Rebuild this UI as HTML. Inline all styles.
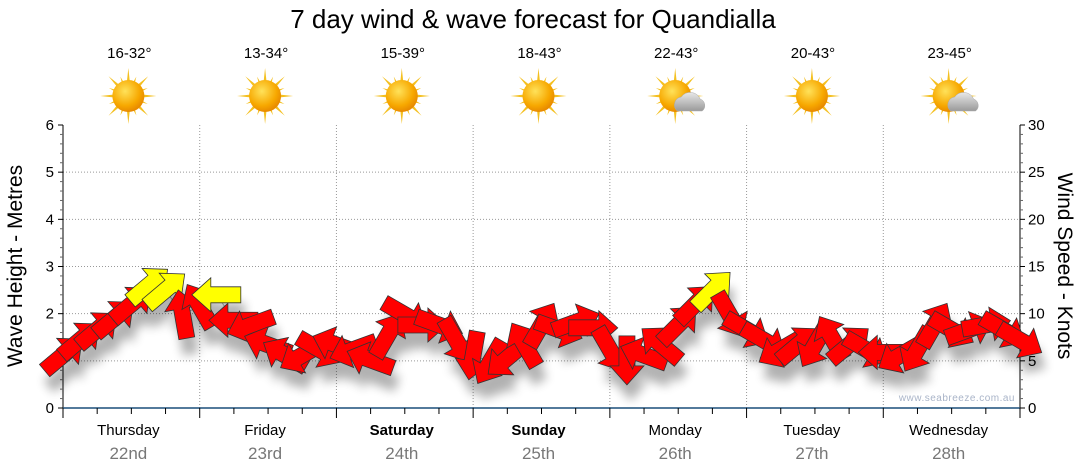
<!DOCTYPE html>
<html><head><meta charset="utf-8"><style>
html,body{margin:0;padding:0;background:#fff;width:1080px;height:475px;overflow:hidden;font-family:"Liberation Sans","DejaVu Sans",sans-serif}
</style></head><body>
<svg id="chart" width="1080" height="475" xmlns="http://www.w3.org/2000/svg" font-family="Liberation Sans, DejaVu Sans, sans-serif">
<defs>
<radialGradient id="sunG" cx="40%" cy="35%" r="65%"><stop offset="0" stop-color="#ffe25a"/><stop offset="0.7" stop-color="#f7a800"/><stop offset="1" stop-color="#e88a00"/></radialGradient>
<linearGradient id="cloudG" x1="0" y1="0" x2="0" y2="1"><stop offset="0" stop-color="#e8e8e8"/><stop offset="1" stop-color="#9a9a9a"/></linearGradient>
<filter id="shadow" x="-50%" y="-50%" width="200%" height="200%"><feGaussianBlur stdDeviation="5"/></filter>
</defs>
<text x="533" y="28" text-anchor="middle" font-size="26" fill="#000">7 day wind &amp; wave forecast for Quandialla</text>
<g id="grid"></g>
<g id="weather"></g>
<g id="axes"></g>
<g id="shadows" filter="url(#shadow)" opacity="0.3"></g>
<g id="arrows"></g>
<text x="1015" y="401" text-anchor="end" font-size="10" fill="#a9b4c8" letter-spacing="0.5">www.seabreeze.com.au</text>
<text transform="translate(22,266) rotate(-90)" text-anchor="middle" font-size="21" fill="#000">Wave Height - Metres</text>
<text transform="translate(1058,266) rotate(90)" text-anchor="middle" font-size="21" fill="#000">Wind Speed - Knots</text>
</svg>
<script>
const days = ["Thursday","Friday","Saturday","Sunday","Monday","Tuesday","Wednesday"];
const dates = ["22nd","23rd","24th","25th","26th","27th","28th"];
const boldDays = [false,false,true,true,false,false,false];
const temps = ["16-32°","13-34°","15-39°","18-43°","22-43°","20-43°","23-45°"];
const cloudy = [false,false,false,false,true,false,true];
const waveTicks = [0,1,2,3,4,5,6];
const windTicks = [0,5,10,15,20,25,30];
const windSpeed = [5.6,7.2,8.3,9.5,11.0,13,12.5,9.9,10.8,12,9.3,8.8,6.7,5.6,5.6,6.2,6.7,6.2,5.1,7.7,9.9,8.8,8.8,7.2,5.6,4.9,5.3,6.7,8.8,8.3,9.1,8.5,6.2,5.1,5.6,6.7,8.8,11.0,12.5,9.9,8.3,7.2,6.2,6.7,6.7,7.4,6.7,6.2,5.9,5.6,6.2,8.8,8.3,8.3,8.8,8.3,7.2];
const windDir = [-40,-40,-40,-40,-40,-40,-40,-100,-120,180,180,160,200,-150,150,30,200,160,200,-60,30,0,20,60,100,120,140,-120,-60,20,-20,0,60,90,200,-140,-45,-45,-45,60,30,30,150,-40,120,-120,-40,30,180,150,120,-60,30,-20,-10,30,30];

const L=63,R=1020,T=125,B=408;
const xDay=d=>L+(R-L)*d/7;
const xStep=i=>L+(R-L)*i/56;
const yWave=v=>B-(B-T)*v/6;
const yWind=v=>B-(B-T)*v/30;
const NS="http://www.w3.org/2000/svg";
function mk(tag,attrs,parent,text){const e=document.createElementNS(NS,tag);for(const k in attrs)e.setAttribute(k,attrs[k]);if(text!==undefined)e.textContent=text;parent.appendChild(e);return e;}
const grid=document.getElementById('grid'),axes=document.getElementById('axes'),wx=document.getElementById('weather');
waveTicks.forEach(v=>{if(v>0&&v<6){const l=mk('line',{x1:L,x2:R,y1:yWave(v),y2:yWave(v),stroke:'#999','stroke-dasharray':'1,2'},grid);

}});
for(let d=1;d<7;d++){const l=mk('line',{x1:xDay(d),x2:xDay(d),y1:T,y2:B,stroke:'#999','stroke-dasharray':'1,2'},grid);

}
mk('line',{x1:L,x2:L,y1:T,y2:B,stroke:'#000'},axes);
mk('line',{x1:R,x2:R,y1:T,y2:B,stroke:'#000'},axes);
mk('line',{x1:L,x2:R,y1:B,y2:B,stroke:'#1a4f7a','stroke-width':1.5},axes);
for(let i=0;i<=30;i++){const y=B-(B-T)*i/30;const big=i%5==0;
mk('line',{x1:L-(big?5:3),x2:L,y1:y,y2:y,stroke:big?'#000':'#666'},axes);
mk('line',{x1:R,x2:R+(big?5:3),y1:y,y2:y,stroke:big?'#000':'#666'},axes);}
waveTicks.forEach(v=>{const t=mk('text',{x:L-9,y:yWave(v)+5,'text-anchor':'end','font-size':15,fill:'#000'},axes,String(v));

});
windTicks.forEach(v=>{const t=mk('text',{x:R+8,y:yWind(v)+5,'text-anchor':'start','font-size':15,fill:'#000'},axes,String(v));

});
for(let i=0;i<=28;i++){const x=L+(R-L)*i/28;const big=i%4==0;mk('line',{x1:x,x2:x,y1:B,y2:B+(big?10:6),stroke:'#000'},axes);}
days.forEach((d,k)=>{const cx=(xDay(k)+xDay(k+1))/2;
const t=mk('text',{x:cx-3,y:435,'text-anchor':'middle','font-size':15,fill:'#000','font-weight':boldDays[k]?'bold':'normal'},axes,d);


const t2=mk('text',{x:cx-3,y:459,'text-anchor':'middle','font-size':17,fill:'#777'},axes,dates[k]);


const t3=mk('text',{x:cx-2,y:58,'text-anchor':'middle','font-size':15,fill:'#000'},wx,temps[k]);


const g=mk('g',{transform:`translate(${cx-3},96)`},wx);


for(let r=0;r<16;r++){const a=r*22.5;const len=r%2?21:28;
mk('polygon',{points:`-3,0 3,0 0,-${len}`,fill:'#f4c020',transform:`rotate(${a})`},g);}
mk('circle',{r:16,fill:'url(#sunG)'},g);
if(cloudy[k]){mk('path',{d:'M2,15 a8,8 0 0 1 4,-14 a11,11 0 0 1 19,2 a7,7 0 0 1 2,12 z',fill:'url(#cloudG)',stroke:'#aaa','stroke-width':0.5},g);}
});
const pts=windSpeed.map((v,i)=>[xStep(i),yWind(v)]);
mk('polyline',{points:pts.map(p=>p.join(',')).join(' '),fill:'none',stroke:'#aaa','stroke-width':1},grid);
const sh=document.getElementById('shadows'),ar=document.getElementById('arrows');
const shape="-24,-8 6,-8 6,-17 25,0 6,17 6,8 -24,8";
windSpeed.forEach((v,i)=>{const x=xStep(i),y=yWind(v);const col=v>=12?'#ffff00':'#ff0000';
mk('polygon',{points:shape,fill:'#000',transform:`translate(${x+4},${y+16}) rotate(${windDir[i]})`},sh);
const a=mk('polygon',{points:shape,fill:col,stroke:'#333','stroke-width':0.8,transform:`translate(${x},${y}) rotate(${windDir[i]})`},ar);

});
</script>
</body></html>
